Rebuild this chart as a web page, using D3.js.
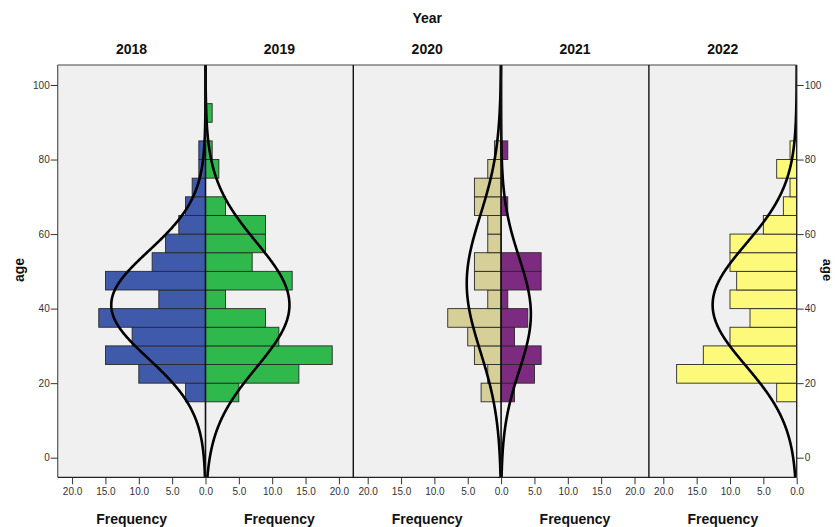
<!DOCTYPE html>
<html><head><meta charset="utf-8">
<script src="https://cdn.jsdelivr.net/npm/d3@7"></script>
<style>body{margin:0;background:#fff}svg{display:block}</style></head>
<body><svg id="c" width="837" height="527"></svg>
<script>
const years = ["2018","2019","2020","2021","2022"];
const binStarts = [15,20,25,30,35,40,45,50,55,60,65,70,75,80,85,90];
const binWidth = 5;
const counts2018 = [3,10,15,11,16,7,15,8,6,4,3,2,1,1,0,0];
const counts2019 = [5,14,19,11,9,3,13,7,9,9,3,0,2,1,0,1];
const counts2020 = [3,2,4,5,8,2,4,4,2,2,4,4,2,1,0,0];
const counts2021 = [2,5,6,2,4,1,6,6,0,0,1,0,0,1,0,0];
const counts2022 = [3,18,14,10,7,10,9,10,10,5,2,1,3,1,0,0];
const curveMeans = [41.0, 41.0, 46.8, 38.5, 41.0];
const curveSDs = [14.4, 16.8, 18.2, 15.2, 16.3];
const colors = ["#3f59ab","#2fb84b","#d6cf98","#7d2a81","#fdf97b"];
const ageTicks = [0,20,40,60,80,100];
const freqTicks = [0,5,10,15,20];

const allCounts = [counts2018,counts2019,counts2020,counts2021,counts2022];
const dirs = [-1,1,-1,1,-1];

const svg = d3.select("#c");
const L = 57.7, R = 796.7, T = 65, B = 477.3;
const halfW = (R - L) / 5;
const y = d3.scaleLinear().domain([0,100]).range([457.7,85]);
const ageMin = y.invert(B), ageMax = y.invert(T);
const freqMax = halfW / 6.67;
const font = "'Liberation Sans', Arial, sans-serif";

svg.append("rect").attr("x",L).attr("y",T).attr("width",R-L).attr("height",B-T).attr("fill","#f0f0f0");
svg.append("defs").append("clipPath").attr("id","clip").append("rect")
  .attr("x",L).attr("y",T).attr("width",R-L).attr("height",B-T);

const xs = years.map((yr,i) => {
  const x0 = L + i*halfW, x1 = x0 + halfW;
  return dirs[i] < 0 ? d3.scaleLinear().domain([0,freqMax]).range([x1,x0])
                     : d3.scaleLinear().domain([0,freqMax]).range([x0,x1]);
});

const plot = svg.append("g").attr("clip-path","url(#clip)");

// bars
years.forEach((yr,i) => {
  const x = xs[i];
  const data = binStarts.map((s,j) => ({s, c: allCounts[i][j]})).filter(d => d.c > 0);
  plot.append("g").selectAll("rect").data(data).enter().append("rect")
    .attr("x", d => Math.min(x(0), x(d.c)))
    .attr("width", d => Math.abs(x(d.c) - x(0)))
    .attr("y", d => y(d.s + binWidth))
    .attr("height", d => y(d.s) - y(d.s + binWidth))
    .attr("fill", colors[i])
    .attr("stroke", "#2a2a2a").attr("stroke-width", 0.9);
});

// normal curves
years.forEach((yr,i) => {
  const x = xs[i];
  const N = d3.sum(allCounts[i]);
  const m = curveMeans[i], s = curveSDs[i];
  const ages = d3.range(ageMin - 1, ageMax + 1, 0.25);
  const pts = ages.map(a => [a, N*binWidth*Math.exp(-0.5*((a-m)/s)**2)/(s*Math.sqrt(2*Math.PI))]);
  plot.append("path").datum(pts)
    .attr("d", d3.line().x(d => x(d[1])).y(d => y(d[0])))
    .attr("fill","none").attr("stroke","#000").attr("stroke-width",2.6);
});

// frame lines
svg.append("line").attr("x1",L).attr("x2",R).attr("y1",T).attr("y2",T).attr("stroke","#444").attr("stroke-width",1.2);
svg.append("line").attr("x1",L).attr("x2",R).attr("y1",B).attr("y2",B).attr("stroke","#222").attr("stroke-width",1.2);
svg.append("line").attr("x1",L).attr("x2",L).attr("y1",T).attr("y2",B).attr("stroke","#555").attr("stroke-width",1.2);
[L+2*halfW, L+4*halfW].forEach(xv => svg.append("line").attr("x1",xv).attr("x2",xv).attr("y1",T).attr("y2",B).attr("stroke","#111").attr("stroke-width",1.4));
[xs[0](0), xs[2](0)].forEach(xv => svg.append("line").attr("x1",xv).attr("x2",xv).attr("y1",T).attr("y2",B).attr("stroke","#111").attr("stroke-width",1.6));
svg.append("line").attr("x1",R).attr("x2",R).attr("y1",T).attr("y2",B).attr("stroke","#222").attr("stroke-width",1.4);

// y axes
const yl = svg.append("g").attr("transform",`translate(${L},0)`)
  .call(d3.axisLeft(y).tickValues(ageTicks).tickSize(7).tickPadding(1).tickFormat(d3.format("d")));
const yr = svg.append("g").attr("transform",`translate(${R},0)`)
  .call(d3.axisRight(y).tickValues(ageTicks).tickSize(7).tickPadding(1).tickFormat(d3.format("d")));
[yl,yr].forEach(g => {
  g.select(".domain").remove();
  g.selectAll("line").attr("stroke","#333");
  g.selectAll("text").attr("font-family",font).attr("font-size",10).attr("fill","#333");
});

// x axes (shared zero label drawn once per mirrored pair)
years.forEach((yr2,i) => {
  const tv = dirs[i] > 0 ? freqTicks.filter(t => t !== 0) : freqTicks;
  const g = svg.append("g").attr("transform",`translate(0,${B})`)
    .call(d3.axisBottom(xs[i]).tickValues(tv).tickSize(7).tickPadding(4).tickFormat(d3.format(".1f")));
  g.select(".domain").remove();
  g.selectAll("line").attr("stroke","#333");
  g.selectAll("text").attr("font-family",font).attr("font-size",10).attr("fill","#333");
  const cx = L + (i+0.5)*halfW;
  svg.append("text").attr("x",cx).attr("y",54).attr("text-anchor","middle")
    .attr("font-family",font).attr("font-size",14).attr("font-weight","bold").attr("fill","#111").text(yr2);
  svg.append("text").attr("x",cx).attr("y",524).attr("text-anchor","middle")
    .attr("font-family",font).attr("font-size",14).attr("font-weight","bold").attr("fill","#111").text("Frequency");
});

svg.append("text").attr("x",(L+R)/2).attr("y",23).attr("text-anchor","middle")
  .attr("font-family",font).attr("font-size",14).attr("font-weight","bold").attr("fill","#111").text("Year");
svg.append("text").attr("transform","translate(24,270) rotate(-90)").attr("text-anchor","middle")
  .attr("font-family",font).attr("font-size",14).attr("font-weight","bold").attr("fill","#111").text("age");
svg.append("text").attr("transform","translate(823,270) rotate(90)").attr("text-anchor","middle")
  .attr("font-family",font).attr("font-size",13).attr("font-weight","bold").attr("fill","#111").text("age");
</script></body></html>
